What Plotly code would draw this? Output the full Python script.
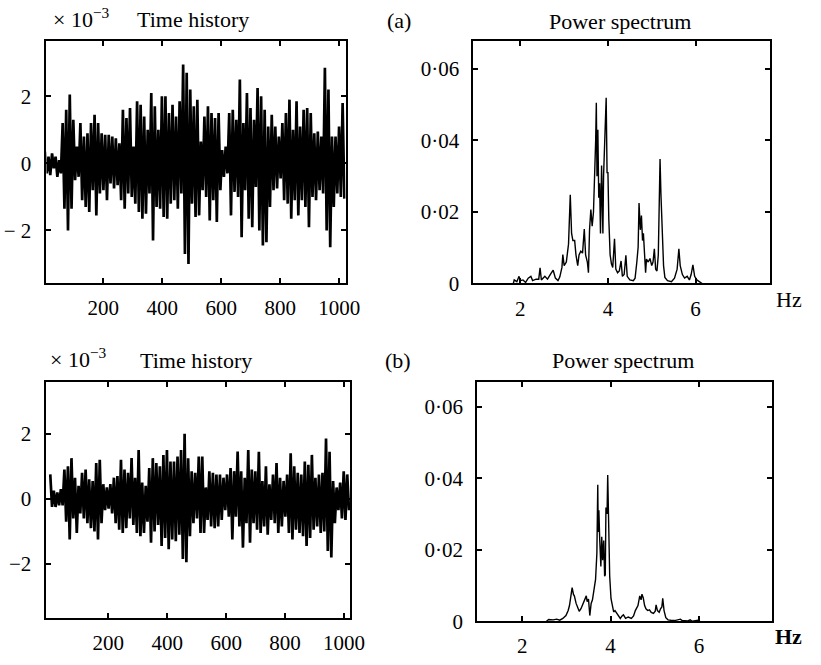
import plotly.graph_objects as go

# ---------------- data ----------------
# Time history (a): envelope of the signal, one high/low pair per 12 samples (x 1e-3)
th_a_hi = [0.35, 0.2, 0.3, 0.2, 0.1, 1.2, 1.6, 2.05, 1.3, 0.5,
           1.2, 0.8, 0.9, 1.2, 1.45, 1.2, 0.9, 0.85, 0.85, 0.8,
           0.75, 0.6, 1.6, 1.35, 1.65, 0.5, 1.85, 1.75, 1.4, 1.0,
           2.1, 1.7, 1.0, 2.0, 2.0, 1.5, 1.75, 1.4, 1.85, 2.95,
           2.7, 2.2, 1.7, 1.9, 0.65, 1.4, 1.7, 1.5, 1.35, 1.5,
           0.4, 0.5, 1.5, 1.6, 1.3, 2.5, 1.2, 2.1, 1.65, 1.3,
           2.25, 2.0, 1.6, 1.1, 1.45, 1.1, 0.8, 1.2, 1.5, 1.9,
           1.0, 1.85, 1.1, 1.6, 1.65, 1.5, 0.9, 0.95, 0.8, 2.85,
           2.2, 0.8, 0.8, 1.1, 1.8]
th_a_lo = [-0.3, -0.35, -0.15, -0.4, -0.3, -1.35, -2.0, -1.35, -0.5, -0.4,
           -1.1, -1.3, -1.45, -0.8, -1.55, -0.9, -0.8, -1.1, -0.6, -0.75,
           -0.65, -1.1, -1.35, -0.9, -1.0, -1.2, -1.45, -1.65, -1.5, -0.9,
           -2.3, -1.3, -1.35, -1.6, -1.65, -1.2, -1.1, -1.35, -0.9, -2.7,
           -3.0, -1.2, -1.6, -1.55, -0.8, -1.0, -1.7, -1.1, -1.75, -0.8,
           -0.4, -0.3, -1.55, -0.85, -1.0, -2.2, -0.8, -1.65, -1.9, -0.7,
           -2.0, -2.45, -2.35, -1.3, -0.8, -0.75, -0.45, -1.1, -1.2, -1.65,
           -1.1, -1.55, -1.1, -1.3, -1.9, -1.0, -1.1, -0.8, -0.9, -2.0,
           -2.5, -1.3, -0.9, -1.0, -1.05]

# Time history (b)
th_b_hi = [0.75, 0.25, 0.2, 0.3, 0.9, 1.0, 1.25, 0.65, 0.4, 0.8,
           0.9, 0.6, 0.55, 1.1, 1.2, 0.45, 0.35, 0.45, 0.65, 0.7,
           1.2, 0.9, 0.8, 1.25, 0.65, 1.5, 0.5, 0.4, 0.95, 1.25,
           1.1, 1.0, 1.35, 1.5, 1.15, 1.15, 1.3, 1.5, 2.0, 1.25,
           0.85, 0.8, 1.3, 1.3, 0.35, 0.85, 0.8, 0.75, 0.75, 0.65,
           0.75, 0.95, 0.85, 1.45, 0.85, 0.65, 1.5, 0.9, 0.85, 1.45,
           0.55, 1.0, 0.45, 0.75, 1.1, 0.65, 0.55, 0.75, 1.4, 1.0,
           0.8, 0.75, 1.15, 1.05, 1.35, 0.65, 0.75, 0.8, 1.85, 1.45,
           0.55, 0.35, 0.5, 0.85, 0.75]
th_b_lo = [-0.25, -0.25, -0.2, -0.2, -0.7, -1.25, -0.6, -1.05, -0.45, -0.6,
           -0.75, -0.9, -1.0, -1.25, -0.75, -0.35, -0.3, -0.45, -0.75, -0.95,
           -1.05, -0.9, -0.6, -0.8, -1.05, -1.15, -1.05, -0.7, -1.35, -1.0,
           -0.8, -1.45, -1.2, -1.55, -1.25, -1.3, -1.1, -1.85, -1.95, -1.15,
           -0.75, -0.6, -1.05, -1.05, -0.65, -0.85, -0.9, -0.85, -0.65, -0.35,
           -0.55, -1.25, -0.55, -0.85, -1.5, -0.75, -1.35, -0.75, -0.95, -1.05,
           -0.85, -1.1, -0.65, -0.75, -1.05, -0.85, -0.55, -1.05, -1.25, -0.95,
           -1.05, -1.15, -1.45, -1.2, -0.95, -0.85, -1.05, -1.0, -1.6, -1.8,
           -0.75, -0.35, -0.6, -0.65, -0.35]

block = 12  # samples per envelope pair

# Power spectrum (a)
ps_a_freq = [1.84, 1.86, 1.92, 1.97, 2.00, 2.06, 2.12, 2.18, 2.24, 2.28,
             2.36, 2.42, 2.45, 2.48, 2.56, 2.62, 2.70, 2.75, 2.80, 2.86,
             2.90, 2.95, 2.97, 3.00, 3.05, 3.10, 3.14, 3.17, 3.20, 3.24,
             3.27, 3.31, 3.34, 3.38, 3.42, 3.46, 3.49, 3.53, 3.555, 3.58,
             3.61, 3.64, 3.67, 3.70, 3.72, 3.735, 3.75, 3.77, 3.79, 3.81,
             3.83, 3.855, 3.87, 3.885, 3.90, 3.93, 3.96, 3.98, 4.00, 4.02,
             4.05, 4.08, 4.11, 4.15, 4.18, 4.22, 4.26, 4.30, 4.33, 4.37,
             4.41, 4.44, 4.50, 4.58, 4.62, 4.66, 4.69, 4.71, 4.74, 4.765,
             4.79, 4.81, 4.84, 4.86, 4.88, 4.92, 4.96, 5.00, 5.03, 5.06,
             5.09, 5.12, 5.15, 5.17, 5.19, 5.21, 5.24, 5.27, 5.30, 5.36,
             5.45, 5.52, 5.58, 5.62, 5.65, 5.70, 5.75, 5.81, 5.86, 5.90,
             5.94, 5.98, 6.03, 6.10, 6.15]
ps_a_power = [0.0, 0.001, 0.0005, 0.002, 0.0008, 0.001, 0.0003, 0.0015, 0.002, 0.0008,
              0.0012, 0.0012, 0.0044, 0.001, 0.002, 0.0012, 0.0028, 0.0037, 0.0015, 0.0008,
              0.0018, 0.0045, 0.0081, 0.005, 0.006, 0.011, 0.0248, 0.014, 0.012, 0.012,
              0.008, 0.005, 0.008, 0.009, 0.0085, 0.0152, 0.008, 0.006, 0.003, 0.015,
              0.0207, 0.016, 0.02, 0.03, 0.04, 0.0505, 0.03, 0.043, 0.024, 0.028,
              0.014, 0.033, 0.02, 0.014, 0.03, 0.042, 0.0519, 0.031, 0.031, 0.018,
              0.008, 0.0055, 0.0045, 0.0125, 0.004, 0.003, 0.0035, 0.0063, 0.002, 0.0025,
              0.0079, 0.002, 0.001, 0.0008, 0.0015, 0.006, 0.0102, 0.0225, 0.015, 0.019,
              0.012, 0.014, 0.005, 0.003, 0.0068, 0.006, 0.007, 0.005, 0.006, 0.0097,
              0.004, 0.0035, 0.008, 0.018, 0.0348, 0.025, 0.015, 0.005, 0.0017, 0.0008,
              0.0005, 0.0015, 0.004, 0.0097, 0.005, 0.0025, 0.0015, 0.002, 0.001, 0.0025,
              0.0052, 0.002, 0.001, 0.0003, 0.0]

# Power spectrum (b)
ps_b_freq = [2.55, 2.60, 2.70, 2.78, 2.85, 2.92, 2.99, 3.04, 3.07, 3.10,
             3.13, 3.16, 3.18, 3.22, 3.26, 3.29, 3.33, 3.37, 3.40, 3.45,
             3.47, 3.50, 3.53, 3.56, 3.59, 3.62, 3.66, 3.69, 3.71, 3.72,
             3.735, 3.755, 3.78, 3.80, 3.82, 3.845, 3.865, 3.88, 3.895, 3.92,
             3.935, 3.955, 3.98, 4.01, 4.05, 4.07, 4.10, 4.14, 4.18, 4.22,
             4.26, 4.29, 4.34, 4.40, 4.47, 4.52, 4.56, 4.62, 4.66, 4.69,
             4.71, 4.74, 4.77, 4.80, 4.84, 4.88, 4.92, 4.97, 5.01, 5.03,
             5.06, 5.10, 5.13, 5.16, 5.18, 5.21, 5.25, 5.30, 5.36, 5.45,
             5.58, 5.62, 5.75, 5.80, 5.85, 5.98, 6.02]
ps_b_power = [0.0, 0.0005, 0.0004, 0.0006, 0.0003, 0.0008, 0.0016, 0.003, 0.0044, 0.007,
              0.0094, 0.0075, 0.0071, 0.005, 0.0035, 0.0028, 0.0035, 0.0048, 0.0053, 0.0071,
              0.0055, 0.0062, 0.0016, 0.005, 0.006, 0.008, 0.0117, 0.019, 0.0382, 0.025,
              0.031, 0.0226, 0.0153, 0.0236, 0.0171, 0.0226, 0.0126, 0.013, 0.0318, 0.03,
              0.0409, 0.0236, 0.0126, 0.0063, 0.004, 0.0026, 0.003, 0.0022, 0.0012, 0.0008,
              0.0015, 0.0018, 0.0008, 0.0012, 0.0008, 0.0015, 0.003, 0.0044, 0.0071, 0.006,
              0.0076, 0.0065, 0.0044, 0.0035, 0.003, 0.0032, 0.0025, 0.0022, 0.0028, 0.0046,
              0.003, 0.0025, 0.0035, 0.004, 0.0064, 0.003, 0.001, 0.0004, 0.0003, 0.0002,
              0.0006, 0.0002, 0.0001, 0.0004, 0.0, 0.0003, 0.0]

th_tickvals = [200, 400, 600, 800, 1000]
th_ticktext = ["200", "400", "600", "800", "1000"]
th_ytickvals = [-2, 0, 2]
th_yticktext_a = ["\u2212 2", "0", "2"]
th_yticktext_b = ["\u22122", "0", "2"]
ps_tickvals = [2, 4, 6]
ps_ticktext = ["2", "4", "6"]
ps_ytickvals = [0, 0.02, 0.04, 0.06]
ps_yticktext = ["0", "0\u00b702", "0\u00b704", "0\u00b706"]

# ---------------- figure ----------------
W, H = 821, 665
FONT = "Liberation Serif"


def fx(px):
    return px / W


def fy(py):
    return 1 - py / H


def envelope(hi, lo):
    xs, ys = [], []
    for i, (h, l) in enumerate(zip(hi, lo)):
        xs += [block * i + 3, block * i + 9]
        ys += [h, l]
    return xs, ys


fig = go.Figure()
xa, ya = envelope(th_a_hi, th_a_lo)
xb, yb = envelope(th_b_hi, th_b_lo)
line = dict(color="black", width=2.7)
sline = dict(color="black", width=1.4)
fig.add_trace(go.Scatter(x=xa, y=ya, mode="lines", line=line, xaxis="x", yaxis="y"))
fig.add_trace(go.Scatter(x=ps_a_freq, y=ps_a_power, mode="lines", line=sline,
                         xaxis="x2", yaxis="y2"))
fig.add_trace(go.Scatter(x=xb, y=yb, mode="lines", line=line, xaxis="x3", yaxis="y3"))
fig.add_trace(go.Scatter(x=ps_b_freq, y=ps_b_power, mode="lines", line=sline,
                         xaxis="x4", yaxis="y4"))

tickfont = dict(family=FONT, size=21, color="black")


def ax(domain, rng, tv, tt, anchor, standoff):
    return dict(domain=domain, range=rng, tickvals=tv, ticktext=tt, anchor=anchor,
                showline=True, linecolor="black", linewidth=2, mirror="ticks",
                ticks="inside", ticklen=5, tickwidth=1.5, tickcolor="black",
                showgrid=False, zeroline=False, tickfont=tickfont,
                ticklabelstandoff=standoff)


fig.update_layout(
    width=W, height=H, margin=dict(l=0, r=0, t=0, b=0),
    paper_bgcolor="white", plot_bgcolor="white", showlegend=False,
    font=dict(family=FONT, size=21, color="black"),
    xaxis=ax([fx(47.3), fx(352)], [8, 1021], th_tickvals, th_ticktext, "y", 5),
    yaxis=ax([fy(288), fy(41.7)], [-3.56, 3.65], th_ytickvals, th_yticktext_a, "x", 9),
    xaxis2=ax([fx(482.3), fx(784.3)], [0.93, 7.70], ps_tickvals, ps_ticktext, "y2", 5),
    yaxis2=ax([fy(288.7), fy(41.7)], [0, 0.0678], ps_ytickvals, ps_yticktext, "x2", 8),
    xaxis3=ax([fx(47.3), fx(356.7)], [-10, 1021], th_tickvals, th_ticktext, "y3", 5),
    yaxis3=ax([fy(629.3), fy(388.7)], [-3.66, 3.6], th_ytickvals, th_yticktext_b, "x3", 9),
    xaxis4=ax([fx(486), fx(786.7)], [0.98, 7.66], ps_tickvals, ps_ticktext, "y4", 5),
    yaxis4=ax([fy(632.7), fy(389)], [0, 0.0669], ps_ytickvals, ps_yticktext, "x4", 8),
)

annots = [
    ("\u00d7 10<sup>\u22123</sup>", 52, 18, "left"),
    ("Time history", 197, 20, "center"),
    ("(a)", 406, 21, "center"),
    ("Power spectrum", 632, 22, "center"),
    ("Hz", 804, 305, "center"),
    ("\u00d7 10<sup>\u22123</sup>", 49, 365, "left"),
    ("Time history", 200, 367, "center"),
    ("(b)", 405, 367, "center"),
    ("Power spectrum", 635, 367, "center"),
    ("<b>Hz</b>", 803, 648, "center"),
]
for text, px, py, anchor in annots:
    fig.add_annotation(text=text, x=fx(px), y=fy(py), xref="paper", yref="paper",
                       xanchor=anchor, yanchor="middle", showarrow=False,
                       font=dict(family=FONT, size=22, color="black"))

fig.write_html("out.html")
